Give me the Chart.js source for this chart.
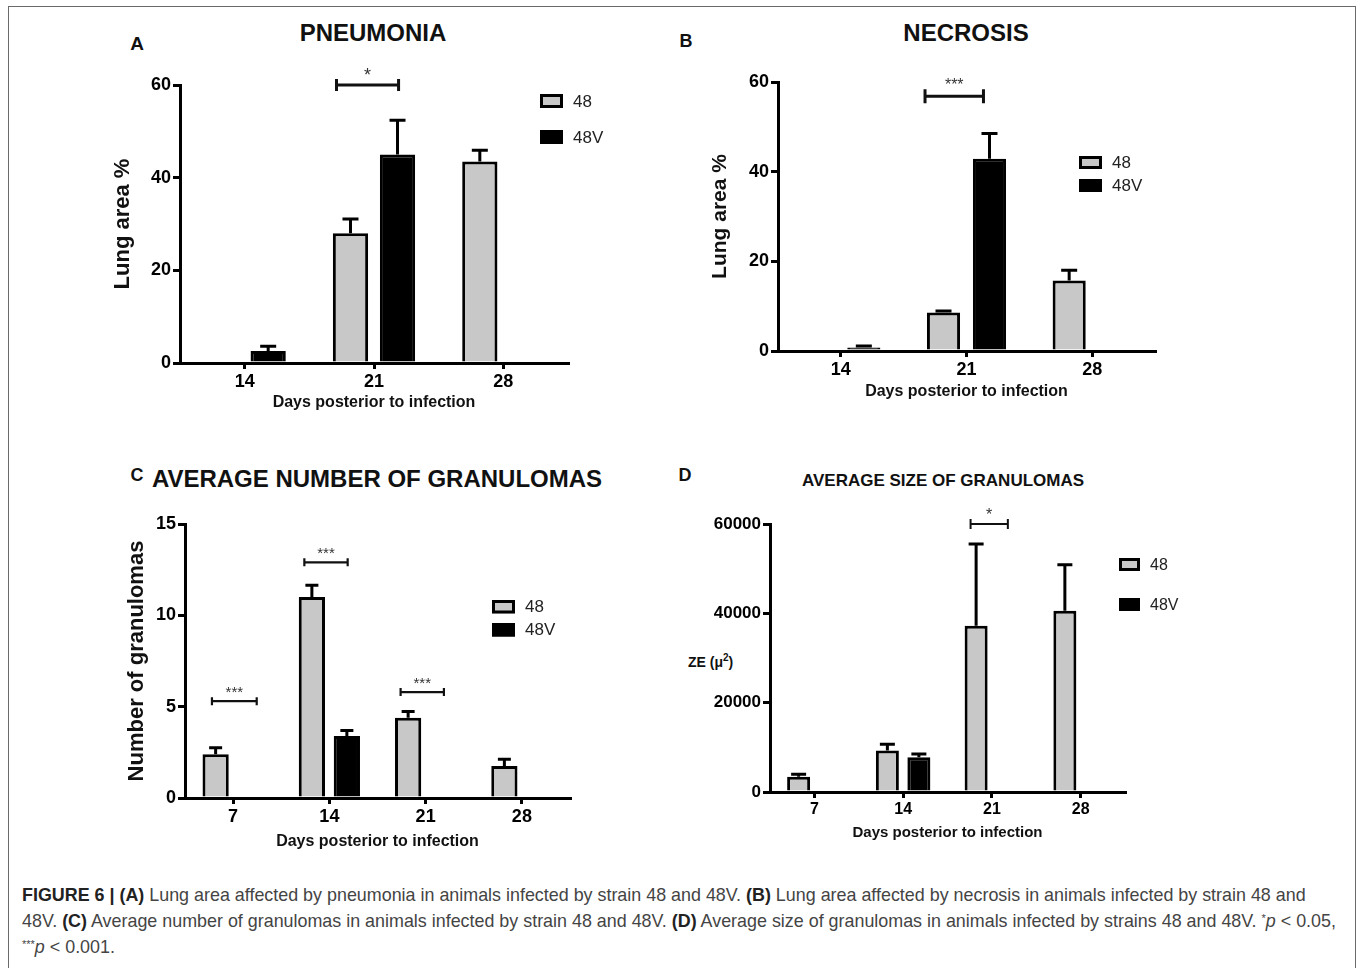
<!DOCTYPE html>
<html>
<head>
<meta charset="utf-8">
<script src="https://cdn.jsdelivr.net/npm/chart.js@4.4.1/dist/chart.umd.min.js"></script>
<style>
  body { margin: 0; background: #fff; font-family: "Liberation Sans", Arial, sans-serif; }
  #page { position: relative; width: 1360px; height: 968px; overflow: hidden; }
  #frame { position: absolute; left: 8px; top: 6px; width: 1346px; height: 1000px; border: 1.5px solid #6a6a6a; }
  canvas { position: absolute; }
  .txt { position: absolute; font-weight: bold; color: #111; white-space: nowrap; line-height: 1; transform: translate(-50%, -50%); }
  #zeLabel { position: absolute; left: 688px; top: 652px; font-size: 14px; font-weight: bold; color: #111; white-space: nowrap; }
  #zeLabel sup { font-size: 10px; }
  #caption { position: absolute; left: 22px; top: 884px; font-size: 17.9px; line-height: 23px; color: #444; white-space: nowrap; }
  #caption b { color: #222; }
  #caption sup { font-size: 11px; vertical-align: 5px; }
</style>
</head>
<body>
<div id="page">
  <div id="frame"></div>

  <div class="txt" style="left:137px; top:43px; font-size:19px;">A</div>
  <div class="txt" style="left:373px; top:33px; font-size:24px;">PNEUMONIA</div>
  <div class="txt" style="left:686px; top:41px; font-size:18px;">B</div>
  <div class="txt" style="left:137px; top:475px; font-size:18px;">C</div>
  <div class="txt" style="left:966px; top:33px; font-size:24px;">NECROSIS</div>
  <div class="txt" style="left:377px; top:479px; font-size:24px;">AVERAGE NUMBER OF GRANULOMAS</div>
  <div class="txt" style="left:685px; top:475px; font-size:18px;">D</div>
  <div class="txt" style="left:943px; top:480px; font-size:17px;">AVERAGE SIZE OF GRANULOMAS</div>
  <div id="zeLabel">ZE (μ<sup>2</sup>)</div>

  <canvas id="chart_a"></canvas>
  <canvas id="chart_b"></canvas>
  <canvas id="chart_c"></canvas>
  <canvas id="chart_d"></canvas>

  <div id="caption">
    <b>FIGURE 6 | (A)</b> Lung area affected by pneumonia in animals infected by strain 48 and 48V. <b>(B)</b> Lung area affected by necrosis in animals infected by strain 48 and<br>
    48V. <b>(C)</b> Average number of granulomas in animals infected by strain 48 and 48V. <b>(D)</b> Average size of granulomas in animals infected by strains 48 and 48V. <sup>*</sup><i>p</i> &lt; 0.05,<br>
    <sup>***</sup><i>p</i> &lt; 0.001.
  </div>
</div>

<script>
// Dados - Pneumonia (A)
const pneuDays = ['14', '21', '28']
const pneu48 = [null, 28, 43.5]
const pneu48Err = [null, 3.1, 2.4]
const pneu48V = [2.6, 45, null]
const pneu48VErr = [1.0, 7.4, null]

// Dados - Necrosis (B)
const necDays = ['14', '21', '28']
const nec48 = [null, 8.6, 15.7]
const nec48Err = [null, 0.3, 2.3]
const nec48V = [0.8, 42.9, null]
const nec48VErr = [0.3, 5.6, null]

// Dados - Number of granulomas (C)
const granDays = ['7', '14', '21', '28']
const gran48 = [2.4, 11.0, 4.4, 1.75]
const gran48Err = [0.35, 0.65, 0.33, 0.37]
const gran48V = [null, 3.4, null, null]
const gran48VErr = [null, 0.3, null, null]

// Dados - Size of granulomas (D)
const sizeDays = ['7', '14', '21', '28']
const size48 = [3400, 9300, 37200, 40600]
const size48Err = [600, 1400, 18300, 10300]
const size48V = [null, 7800, null, null]
const size48VErr = [null, 700, null, null]

// Significance marks: day, span in category widths, height in axis units
const pneuSig = [{ day: '21', from: -0.29, to: 0.19, at: 60, text: '*' }]
const necSig = [{ day: '21', from: -0.33, to: 0.135, at: 56.8, text: '***' }]
const granSig = [
    { day: '7', from: -0.22, to: 0.245, at: 5.3, text: '***' },
    { day: '14', from: -0.26, to: 0.19, at: 12.9, text: '***' },
    { day: '21', from: -0.26, to: 0.19, at: 5.8, text: '***' }
]
const sizeSig = [{ day: '21', from: -0.24, to: 0.18, at: 60000, text: '*' }]

const FONT = '"Liberation Sans", Arial, sans-serif'

// Error bars (upper only)
function errorBarPlugin(capW) {
    return {
        id: 'errorBars',
        afterDatasetsDraw(chart) {
            let ctx = chart.ctx
            let ys = chart.scales.y
            chart.data.datasets.forEach((ds, i) => {
                let meta = chart.getDatasetMeta(i)
                meta.data.forEach((bar, j) => {
                    let v = ds.data[j], e = ds.errors[j]
                    if (v == null || e == null) return
                    let top = ys.getPixelForValue(v + e)
                    ctx.save()
                    ctx.strokeStyle = '#000'
                    ctx.lineWidth = 3
                    ctx.beginPath()
                    ctx.moveTo(bar.x, bar.y)
                    ctx.lineTo(bar.x, top)
                    ctx.moveTo(bar.x - capW / 2, top)
                    ctx.lineTo(bar.x + capW / 2, top)
                    ctx.stroke()
                    ctx.restore()
                })
            })
        }
    }
}

// Brackets with stars
function bracketPlugin(list, st) {
    return {
        id: 'brackets',
        afterDraw(chart) {
            let ctx = chart.ctx
            let xs = chart.scales.x, ys = chart.scales.y
            let band = chart.chartArea.width / chart.data.labels.length
            list.forEach(b => {
                let c = xs.getPixelForValue(chart.data.labels.indexOf(b.day))
                let x1 = c + b.from * band, x2 = c + b.to * band
                let y = ys.getPixelForValue(b.at)
                ctx.save()
                ctx.strokeStyle = '#111'
                ctx.lineWidth = st.lw
                ctx.beginPath()
                ctx.moveTo(x1, y); ctx.lineTo(x2, y)
                ctx.moveTo(x1, y - st.tick); ctx.lineTo(x1, y + st.tick)
                ctx.moveTo(x2, y - st.tick); ctx.lineTo(x2, y + st.tick)
                ctx.stroke()
                ctx.fillStyle = '#333'
                ctx.font = `${st.size}px ${FONT}`
                ctx.textAlign = 'center'
                ctx.textBaseline = 'alphabetic'
                ctx.fillText(b.text, (x1 + x2) / 2, y - st.gap)
                ctx.restore()
            })
        }
    }
}

// Legend with boxed swatches
function legendPlugin(lg, box) {
    return {
        id: 'boxLegend',
        afterDraw(chart) {
            let ctx = chart.ctx
            chart.data.datasets.forEach((ds, i) => {
                let x = lg.x - box.x, y = lg.y - box.y + i * lg.gap
                ctx.save()
                ctx.fillStyle = ds.backgroundColor
                ctx.fillRect(x, y, lg.w, lg.h)
                ctx.lineWidth = 3
                ctx.strokeStyle = '#000'
                ctx.strokeRect(x + 1.5, y + 1.5, lg.w - 3, lg.h - 3)
                ctx.fillStyle = '#222'
                ctx.font = `${lg.size}px ${FONT}`
                ctx.textBaseline = 'middle'
                ctx.fillText(ds.label, x + lg.w + 10, y + lg.h / 2 + 1)
                ctx.restore()
            })
        }
    }
}

function makePanel(id, p) {
    let canvas = document.getElementById(id)
    let box = p.box, area = p.area
    canvas.width = box.w
    canvas.height = box.h
    canvas.style.left = box.x + 'px'
    canvas.style.top = box.y + 'px'

    let yPad = p.yTitle ? (p.yTitleX - box.x) - p.yTitleSize * 0.6 : 0
    let xPad = (box.y + box.h - p.xTitleY) - p.xTitleSize * 0.6

    return new Chart(canvas, {
        type: 'bar',
        data: {
            labels: p.labels,
            datasets: [{
                label: '48',
                data: p.s48,
                errors: p.e48,
                backgroundColor: '#c8c8c8',
                borderColor: '#000',
                borderWidth: 3,
                categoryPercentage: p.catPct,
                barPercentage: p.barPct
            }, {
                label: '48V',
                data: p.s48V,
                errors: p.e48V,
                backgroundColor: '#000',
                borderColor: '#000',
                borderWidth: 3,
                categoryPercentage: p.catPct,
                barPercentage: p.barPct
            }]
        },
        options: {
            responsive: false,
            animation: false,
            layout: {
                padding: { top: area.t - box.y, right: box.x + box.w - area.r, left: 0, bottom: 0 }
            },
            scales: {
                x: {
                    offset: true,
                    grid: { display: true, offset: false, drawOnChartArea: false, drawTicks: true, tickLength: 6, lineWidth: 3, color: '#000' },
                    border: { display: true, color: '#000', width: 3 },
                    ticks: { color: '#000', padding: 2, maxRotation: 0, font: { family: FONT, size: p.tickSize, weight: 'bold' } },
                    title: {
                        display: true,
                        text: 'Days posterior to infection',
                        color: '#111',
                        font: { family: FONT, size: p.xTitleSize, weight: 'bold' },
                        padding: { top: xPad, bottom: xPad }
                    },
                    afterFit: s => { s.height = box.y + box.h - area.b }
                },
                y: {
                    min: 0,
                    max: p.yMax,
                    grid: { display: true, drawOnChartArea: false, drawTicks: true, tickLength: 7, lineWidth: 3, color: '#000' },
                    border: { display: true, color: '#000', width: 3 },
                    ticks: {
                        stepSize: p.yStep,
                        color: '#000',
                        padding: 2,
                        font: { family: FONT, size: p.yTickSize || p.tickSize, weight: 'bold' },
                        callback: v => String(v)
                    },
                    title: {
                        display: !!p.yTitle,
                        text: p.yTitle || '',
                        color: '#111',
                        font: { family: FONT, size: p.yTitleSize || 12, weight: 'bold' },
                        padding: { top: yPad, bottom: yPad }
                    },
                    afterFit: s => { s.width = area.l - box.x }
                }
            },
            plugins: {
                legend: { display: false },
                tooltip: { enabled: false }
            }
        },
        plugins: [errorBarPlugin(p.capW), bracketPlugin(p.sig, p.sigStyle), legendPlugin(p.legend, box)]
    })
}

// Painel A
makePanel('chart_a', {
    box: { x: 100, y: 60, w: 530, h: 370 },
    area: { l: 180, t: 85, r: 568, b: 363 },
    labels: pneuDays, s48: pneu48, e48: pneu48Err, s48V: pneu48V, e48V: pneu48VErr,
    yMax: 60, yStep: 20, catPct: 0.727, barPct: 0.75, capW: 16,
    tickSize: 18, yTitle: 'Lung area %', yTitleSize: 22, yTitleX: 123,
    xTitleSize: 16, xTitleY: 403,
    sig: pneuSig, sigStyle: { lw: 3, tick: 6, size: 18, gap: 4 },
    legend: { x: 540, y: 94, w: 23, h: 14, gap: 36, size: 17 }
})

// Painel B
makePanel('chart_b', {
    box: { x: 700, y: 55, w: 515, h: 370 },
    area: { l: 778, t: 82, r: 1155, b: 351 },
    labels: necDays, s48: nec48, e48: nec48Err, s48V: nec48V, e48V: nec48VErr,
    yMax: 60, yStep: 20, catPct: 0.732, barPct: 0.72, capW: 16,
    tickSize: 18, yTitle: 'Lung area %', yTitleSize: 21, yTitleX: 720,
    xTitleSize: 16, xTitleY: 392,
    sig: necSig, sigStyle: { lw: 3, tick: 7, size: 16, gap: 6 },
    legend: { x: 1079, y: 156, w: 23, h: 13, gap: 23, size: 17 }
})

// Painel C
makePanel('chart_c', {
    box: { x: 100, y: 500, w: 530, h: 360 },
    area: { l: 185, t: 524, r: 570, b: 798 },
    labels: granDays, s48: gran48, e48: gran48Err, s48V: gran48V, e48V: gran48VErr,
    yMax: 15, yStep: 5, catPct: 0.727, barPct: 0.75, capW: 13,
    tickSize: 18, yTitle: 'Number of granulomas', yTitleSize: 22, yTitleX: 137,
    xTitleSize: 16, xTitleY: 842,
    sig: granSig, sigStyle: { lw: 2.2, tick: 4, size: 15, gap: 4 },
    legend: { x: 492, y: 600, w: 23, h: 13.5, gap: 23, size: 17 }
})

// Painel D
makePanel('chart_d', {
    box: { x: 700, y: 500, w: 530, h: 360 },
    area: { l: 770, t: 524, r: 1125, b: 792 },
    labels: sizeDays, s48: size48, e48: size48Err, s48V: size48V, e48V: size48VErr,
    yMax: 60000, yStep: 20000, catPct: 0.71, barPct: 0.73, capW: 15,
    tickSize: 16, yTickSize: 17, yTitle: null,
    xTitleSize: 15, xTitleY: 833,
    sig: sizeSig, sigStyle: { lw: 2, tick: 5, size: 16, gap: 4 },
    legend: { x: 1119, y: 558, w: 21, h: 13, gap: 40, size: 16 }
})
</script>
</body>
</html>
